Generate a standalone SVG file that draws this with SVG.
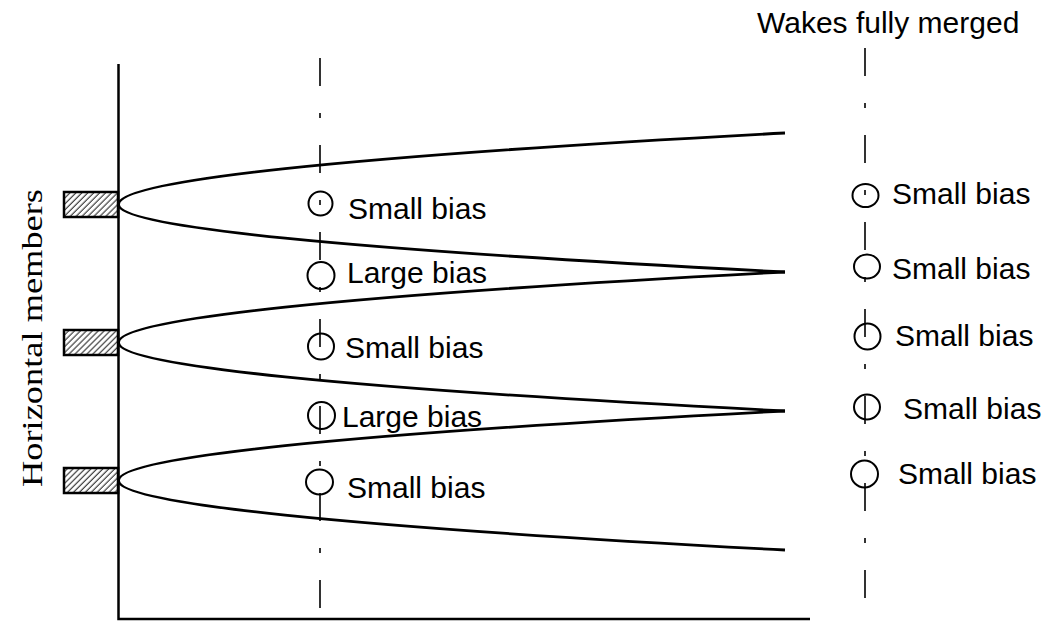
<svg xmlns="http://www.w3.org/2000/svg" width="1050" height="621" viewBox="0 0 1050 621">
<defs>
<pattern id="hatch" patternUnits="userSpaceOnUse" width="4.2" height="10" patternTransform="rotate(45)">
<line x1="1" y1="0" x2="1" y2="10" stroke="#000" stroke-width="0.9"/>
</pattern>
<style>
.lbl{font-family:"Liberation Sans",Arial,sans-serif;font-size:30px;fill:#000}
.ttl{font-family:"Liberation Serif","Times New Roman",serif;font-size:30px;fill:#000}
.axis{fill:none;stroke:#000;stroke-width:2.5}
.wake{fill:none;stroke:#000;stroke-width:2.8}
.cl{fill:none;stroke:#000;stroke-width:1.6;stroke-dasharray:28 27 5 27}
.mark{fill:none;stroke:#000;stroke-width:2}
.member{fill:url(#hatch);stroke:#000;stroke-width:2.5}
</style>
</defs>
<rect width="1050" height="621" fill="#fff"/>

<g id="axes">
<path class="axis" d="M118.5,64 V619 H810"/>
</g>

<g id="members">
<rect class="member" x="64" y="192" width="54" height="25"/>
<rect class="member" x="64" y="330" width="54" height="25"/>
<rect class="member" x="64" y="468" width="54" height="25"/>
</g>

<g id="connectors">
<path class="wake" d="M785,133 Q118.5,168.5 118.5,204.5 Q118.5,238 785,272"/>
<path class="wake" d="M785,272 Q118.5,307 118.5,342.5 Q118.5,377 785,411"/>
<path class="wake" d="M785,411 Q118.5,445.5 118.5,480.5 Q118.5,515 785,550"/>
<line class="cl" x1="320" y1="58" x2="320" y2="610"/>
<line class="cl" x1="865" y1="48" x2="865" y2="600"/>
</g>

<g id="left-markers">
<circle class="mark" cx="320.5" cy="203.5" r="12"/>
<circle class="mark" cx="321" cy="275.5" r="13.5"/>
<circle class="mark" cx="321" cy="346.5" r="13"/>
<circle class="mark" cx="321.5" cy="415.5" r="13.5"/>
<ellipse class="mark" cx="319.5" cy="482" rx="13.5" ry="12.5"/>
</g>

<g id="right-markers">
<ellipse class="mark" cx="865.5" cy="195.5" rx="13" ry="11.5"/>
<ellipse class="mark" cx="867" cy="266.5" rx="13" ry="12"/>
<ellipse class="mark" cx="867.5" cy="336.5" rx="13" ry="13"/>
<ellipse class="mark" cx="867" cy="407" rx="13" ry="12.5"/>
<ellipse class="mark" cx="864.5" cy="474" rx="13.5" ry="13.5"/>
</g>

<g id="left-labels">
<text class="lbl" x="348" y="219">Small bias</text>
<text class="lbl" x="347" y="283">Large bias</text>
<text class="lbl" x="345" y="358">Small bias</text>
<text class="lbl" x="342" y="427">Large bias</text>
<text class="lbl" x="347" y="498">Small bias</text>
</g>

<g id="right-labels">
<text class="lbl" x="892" y="204">Small bias</text>
<text class="lbl" x="892" y="279">Small bias</text>
<text class="lbl" x="895" y="346">Small bias</text>
<text class="lbl" x="903" y="419">Small bias</text>
<text class="lbl" x="898" y="484">Small bias</text>
</g>

<g id="title">
<text class="lbl" x="757" y="33">Wakes fully merged</text>
</g>

<g id="y-label">
<text class="ttl" transform="translate(42,487) rotate(-90)" textLength="298" lengthAdjust="spacingAndGlyphs">Horizontal members</text>
</g>
</svg>
